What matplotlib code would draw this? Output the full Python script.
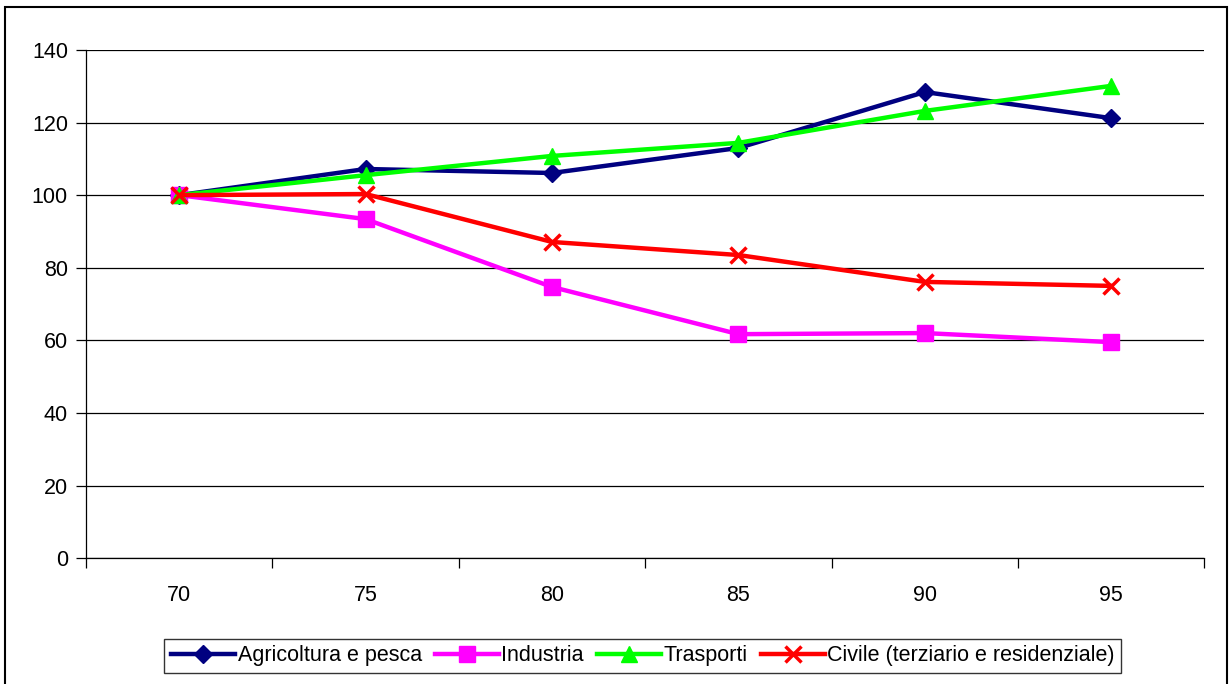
import matplotlib.pyplot as plt
from matplotlib.patches import Rectangle

plt.rcParams['font.family'] = ['Liberation Sans', 'DejaVu Sans']

anni = ["70", "75", "80", "85", "90", "95"]
agricoltura = [100, 107.2, 106.1, 113.0, 128.4, 121.2]
industria = [100, 93.4, 74.7, 61.7, 62.0, 59.5]
trasporti = [100, 105.5, 110.8, 114.4, 123.2, 130.1]
civile = [100, 100.3, 87.1, 83.5, 76.1, 75.0]

fig = plt.figure(figsize=(12.29, 6.84), dpi=100)
ax = fig.add_axes([0.070, 0.184, 0.910, 0.743])

x = range(len(anni))
ax.plot(x, agricoltura, color="#000080", lw=3.2, marker="D", ms=9,
        label="Agricoltura e pesca", zorder=3)
ax.plot(x, industria, color="#FF00FF", lw=3.2, marker="s", ms=11,
        label="Industria", zorder=3)
ax.plot(x, trasporti, color="#00FF00", lw=3.2, marker="^", ms=12,
        label="Trasporti", zorder=3)
ax.plot(x, civile, color="#FF0000", lw=3.2, marker="x", ms=11, mew=2.5,
        label="Civile (terziario e residenziale)", zorder=4)

ax.set_xlim(-0.5, len(anni) - 0.5)
ax.set_ylim(0, 140)
ax.set_yticks(range(0, 141, 20))
ax.yaxis.grid(True, color="black", lw=0.9)
ax.set_axisbelow(True)

# category axis: labels at centres, ticks at the boundaries
ax.set_xticks(list(x))
ax.set_xticklabels(anni)
ax.set_xticks([i - 0.5 for i in range(len(anni) + 1)], minor=True)
ax.tick_params(axis="x", which="major", length=0, pad=19, labelsize=15.5)
ax.tick_params(axis="x", which="minor", length=7, width=0.9)
ax.tick_params(axis="y", length=7, width=0.9, pad=6, labelsize=15.5)

for s in ["top", "right"]:
    ax.spines[s].set_visible(False)
for s in ["left", "bottom"]:
    ax.spines[s].set_linewidth(0.9)

leg = fig.legend(loc="center", bbox_to_anchor=(0.523, 0.041), ncol=4,
                 fontsize=15.5, frameon=True, fancybox=False, shadow=False,
                 handlelength=3.0, handletextpad=0.1, columnspacing=0.6,
                 borderpad=0.3)
leg.get_frame().set_edgecolor("black")
leg.get_frame().set_linewidth(1.0)

# outer border of the chart
fig.patches.append(Rectangle((0.004, -0.01), 0.994, 1.0, transform=fig.transFigure,
                             fill=False, edgecolor="black", lw=1.5))

fig.savefig("out.png", dpi=100)
